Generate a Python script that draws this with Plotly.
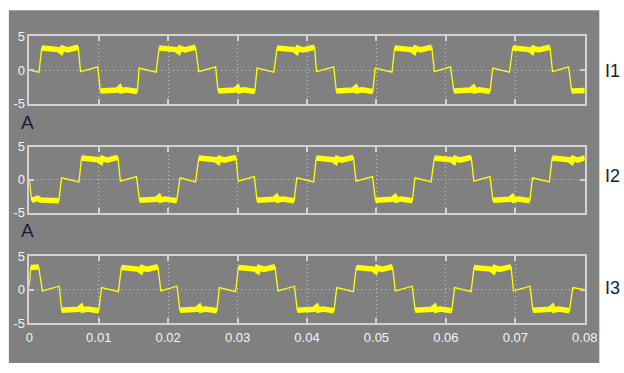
import plotly.graph_objects as go

# ---------------- data ----------------
x_ticks = [0, 0.01, 0.02, 0.03, 0.04, 0.05, 0.06, 0.07, 0.08]
x_tick_labels = ["0", "0.01", "0.02", "0.03", "0.04", "0.05", "0.06", "0.07", "0.08"]
y_ticks = [-5, 0, 5]
y_tick_labels = ["-5", "0", "5"]
signal_names = ["I1", "I2", "I3"]
unit_label = "A"

t_i1 = [0, 0.00140, 0.00179, 0.00419, 0.00459, 0.00479, 0.00549, 0.00706, 0.00738, 0.00986,
        0.01024, 0.01264, 0.01304, 0.01324, 0.01394, 0.01555, 0.01583, 0.01825,
        0.01871, 0.02111, 0.02151, 0.02171, 0.02241, 0.02394, 0.02441, 0.02683,
        0.02720, 0.02960, 0.03000, 0.03020, 0.03090, 0.03248, 0.03280, 0.03522,
        0.03569, 0.03809, 0.03849, 0.03869, 0.03939, 0.04109, 0.04137, 0.04385,
        0.04422, 0.04662, 0.04702, 0.04722, 0.04792, 0.04948, 0.04982, 0.05224,
        0.05262, 0.05502, 0.05542, 0.05562, 0.05632, 0.05797, 0.05835, 0.06067,
        0.06115, 0.06355, 0.06395, 0.06415, 0.06485, 0.06636, 0.06674, 0.06916,
        0.06962, 0.07202, 0.07242, 0.07262, 0.07332, 0.07499, 0.07536, 0.07769,
        0.07811, 0.08]
i1 = [0.0, -0.3, 3.3, 3.05, 2.75, 3.25, 3.0, 3.4, -0.2, 0.5,
      -3.1, -2.95, -2.6, -3.05, -2.9, -3.15, 0.3, -0.3,
      3.3, 3.05, 2.75, 3.25, 3.0, 3.4, -0.2, 0.5,
      -3.1, -2.95, -2.6, -3.05, -2.9, -3.15, 0.3, -0.3,
      3.3, 3.05, 2.75, 3.25, 3.0, 3.4, -0.2, 0.5,
      -3.1, -2.95, -2.6, -3.05, -2.9, -3.15, 0.3, -0.3,
      3.3, 3.05, 2.75, 3.25, 3.0, 3.4, -0.2, 0.5,
      -3.1, -2.95, -2.6, -3.05, -2.9, -3.15, 0.3, -0.3,
      3.3, 3.05, 2.75, 3.25, 3.0, 3.4, -0.2, 0.5,
      -3.1, -3.0]

t_i2 = [0, 0.00035, 0.00120, 0.00160, 0.00427, 0.00464, 0.00716,
        0.00752, 0.00992, 0.01032, 0.01052, 0.01122, 0.01276, 0.01312, 0.01545,
        0.01587, 0.01827, 0.01867, 0.01887, 0.01957, 0.02123, 0.02171, 0.02394,
        0.02441, 0.02681, 0.02721, 0.02741, 0.02811, 0.02976, 0.03010, 0.03242,
        0.03280, 0.03520, 0.03560, 0.03580, 0.03650, 0.03815, 0.03853, 0.04095,
        0.04133, 0.04373, 0.04413, 0.04433, 0.04503, 0.04669, 0.04706, 0.04944,
        0.04986, 0.05226, 0.05266, 0.05286, 0.05356, 0.05517, 0.05555, 0.05787,
        0.05835, 0.06075, 0.06115, 0.06135, 0.06205, 0.06366, 0.06403, 0.06636,
        0.06678, 0.06918, 0.06958, 0.06978, 0.07048, 0.07210, 0.07247, 0.07490,
        0.07531, 0.07771, 0.07811, 0.07831, 0.07901, 0.08]
i2 = [0.0, -3.1, -2.8, -3.05, -3.15, 0.3, -0.3,
      3.3, 3.05, 2.75, 3.25, 3.0, 3.4, -0.2, 0.5,
      -3.1, -2.95, -2.6, -3.05, -2.9, -3.15, 0.3, -0.3,
      3.3, 3.05, 2.75, 3.25, 3.0, 3.4, -0.2, 0.5,
      -3.1, -2.95, -2.6, -3.05, -2.9, -3.15, 0.3, -0.3,
      3.3, 3.05, 2.75, 3.25, 3.0, 3.4, -0.2, 0.5,
      -3.1, -2.95, -2.6, -3.05, -2.9, -3.15, 0.3, -0.3,
      3.3, 3.05, 2.75, 3.25, 3.0, 3.4, -0.2, 0.5,
      -3.1, -2.95, -2.6, -3.05, -2.9, -3.15, 0.3, -0.3,
      3.3, 3.05, 2.75, 3.25, 3.0, 3.35]

t_i3 = [0, 0.00020, 0.00136, 0.00188, 0.00431,
        0.00467, 0.00707, 0.00747, 0.00767, 0.00837, 0.01000, 0.01041, 0.01284,
        0.01326, 0.01566, 0.01606, 0.01626, 0.01696, 0.01853, 0.01895, 0.02128,
        0.02169, 0.02409, 0.02449, 0.02469, 0.02539, 0.02702, 0.02738, 0.02971,
        0.03012, 0.03252, 0.03292, 0.03312, 0.03382, 0.03540, 0.03581, 0.03819,
        0.03860, 0.04100, 0.04140, 0.04160, 0.04230, 0.04388, 0.04429, 0.04667,
        0.04709, 0.04949, 0.04989, 0.05009, 0.05079, 0.05231, 0.05273, 0.05516,
        0.05557, 0.05797, 0.05837, 0.05857, 0.05927, 0.06085, 0.06126, 0.06364,
        0.06405, 0.06645, 0.06685, 0.06705, 0.06775, 0.06938, 0.06974, 0.07212,
        0.07254, 0.07494, 0.07534, 0.07554, 0.07624, 0.07781, 0.07828, 0.08]
i3 = [0.5, 3.3, 3.35, -0.2, 0.5,
      -3.1, -2.95, -2.6, -3.05, -2.9, -3.15, 0.3, -0.3,
      3.3, 3.05, 2.75, 3.25, 3.0, 3.4, -0.2, 0.5,
      -3.1, -2.95, -2.6, -3.05, -2.9, -3.15, 0.3, -0.3,
      3.3, 3.05, 2.75, 3.25, 3.0, 3.4, -0.2, 0.5,
      -3.1, -2.95, -2.6, -3.05, -2.9, -3.15, 0.3, -0.3,
      3.3, 3.05, 2.75, 3.25, 3.0, 3.4, -0.2, 0.5,
      -3.1, -2.95, -2.6, -3.05, -2.9, -3.15, 0.3, -0.3,
      3.3, 3.05, 2.75, 3.25, 3.0, 3.4, -0.2, 0.5,
      -3.1, -2.95, -2.6, -3.05, -2.9, -3.15, 0.3, 0.0]

series_t = [t_i1, t_i2, t_i3]
series_v = [i1, i2, i3]

# ---------------- layout geometry (pixels) ----------------
W, H = 624, 373
PLOT_X = (26, 597)
PLOT_Y = [(30.7, 101.0), (145.7, 214.5), (259.5, 329.3)]

YELLOW = "#ffff00"
GRAY = "#808080"
FRAME = "#d2d2d2"
GRID = "#c4c4c4"
TXT = "#f4f4f4"
FONT = "Liberation Sans Narrow, Arial Narrow, Liberation Sans, sans-serif"

fig = go.Figure()

for k in range(3):
    xa = "x" if k == 0 else f"x{k+1}"
    ya = "y" if k == 0 else f"y{k+1}"
    t = series_t[k]
    v = series_v[k]
    fig.add_trace(go.Scatter(x=t, y=v, mode="lines", xaxis=xa, yaxis=ya,
                             line=dict(color=YELLOW, width=1.3), hoverinfo="skip",
                             showlegend=False))
    thick = [val if abs(val) >= 2.5 else None for val in v]
    fig.add_trace(go.Scatter(x=t, y=thick, mode="lines", xaxis=xa, yaxis=ya,
                             line=dict(color=YELLOW, width=5.5), hoverinfo="skip",
                             connectgaps=False, showlegend=False))

layout = dict(
    width=W, height=H,
    margin=dict(l=0, r=0, t=0, b=0),
    paper_bgcolor="white",
    plot_bgcolor="black",
    showlegend=False,
    font=dict(family=FONT, color=TXT, size=13),
)

for k in range(3):
    xname = "xaxis" if k == 0 else f"xaxis{k+1}"
    yname = "yaxis" if k == 0 else f"yaxis{k+1}"
    yanchor = "y" if k == 0 else f"y{k+1}"
    xanchor = "x" if k == 0 else f"x{k+1}"
    top, bot = PLOT_Y[k]
    layout[xname] = dict(
        domain=[PLOT_X[0] / W, PLOT_X[1] / W], anchor=yanchor,
        range=[0, 0.08], tickvals=x_ticks, ticktext=x_tick_labels,
        showticklabels=(k == 2), ticks="inside", ticklen=5, tickwidth=1.5,
        tickcolor=FRAME, showline=True, linecolor=FRAME, linewidth=1.5,
        mirror="ticks", showgrid=True, gridcolor=GRID, griddash="1px,3px",
        gridwidth=1, zeroline=False, fixedrange=True, ticklabelstandoff=2,
        tickfont=dict(family=FONT, color=TXT, size=13),
    )
    layout[yname] = dict(
        domain=[1 - bot / H, 1 - top / H], anchor=xanchor,
        range=[-5, 5], tickvals=y_ticks, ticktext=y_tick_labels,
        ticks="inside", ticklen=5, tickwidth=1.5, tickcolor=FRAME,
        showline=True, linecolor=FRAME, linewidth=1.5, mirror="ticks",
        showgrid=True, gridcolor=GRID, griddash="1px,3px", gridwidth=1,
        zeroline=False, fixedrange=True,
        tickfont=dict(family=FONT, color=TXT, size=13),
    )

layout["shapes"] = [dict(type="rect", xref="paper", yref="paper",
                         x0=5 / W, x1=612 / W, y0=1 - 371 / H, y1=1 - 3.3 / H,
                         fillcolor=GRAY, line=dict(width=0), layer="below")]

ann = []
for yc in (120, 233):
    ann.append(dict(text=unit_label, xref="paper", yref="paper", x=24 / W, y=1 - yc / H,
                    showarrow=False, xanchor="center", yanchor="middle",
                    font=dict(family=FONT, size=19, color="#1c1c3a")))
for k, yc in enumerate((67, 176, 293)):
    ann.append(dict(text=signal_names[k], xref="paper", yref="paper", x=616 / W, y=1 - yc / H,
                    showarrow=False, xanchor="left", yanchor="middle",
                    font=dict(family=FONT, size=18, color="#1c1c2c")))
layout["annotations"] = ann

fig.update_layout(**layout)
fig.write_html("out.html")
